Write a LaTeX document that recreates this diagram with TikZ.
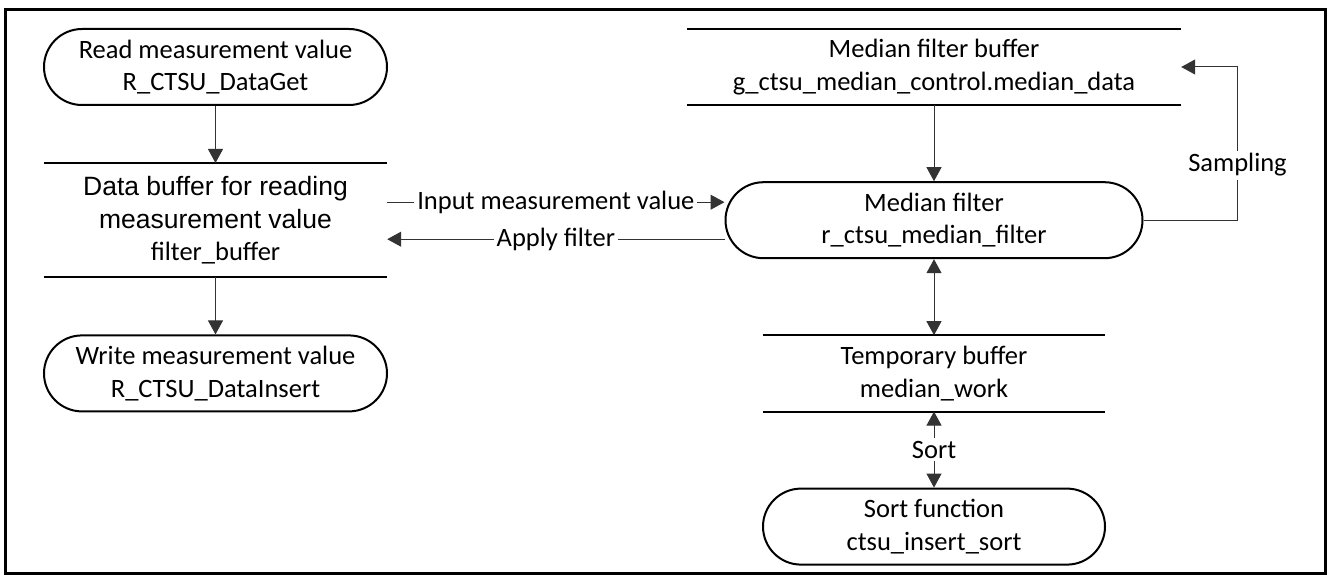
\documentclass[tikz,border=0pt]{standalone}
\usepackage{fontspec}
\setmainfont{Carlito}
\newfontfamily\arialfont{Liberation Sans}
\usepackage{tikz}
\usetikzlibrary{arrows.meta, positioning}
\tikzstyle{term} = [rectangle, draw, line width=2pt, rounded corners=38pt, minimum height=76pt, align=center, inner sep=0pt]
\tikzstyle{store} = [rectangle, minimum height=76pt, align=center, inner sep=0pt]
\tikzstyle{line} = [draw, -{Triangle[width=15pt,length=14pt]}, line width=1pt, black!80]
\tikzstyle{dline} = [draw, {Triangle[width=15pt,length=14pt]}-{Triangle[width=15pt,length=14pt]}, line width=1pt, black!80]
\tikzstyle{lbl} = [fill=white, text=black, inner sep=3pt]

\begin{document}
\begin{tikzpicture}[x=1pt, y=-1pt, font=\fontsize{26.5}{32.5}\selectfont]
  \useasboundingbox (0,0) rectangle (1328,575);
  \draw [line width=3pt] (5,10) rectangle (1325,573);

  % left column
  \node (read) [term, minimum width=343pt] at (215.5,67) {Read measurement value\\R\_CTSU\_DataGet};
  \node (databuf) [store, minimum width=343pt, minimum height=114pt, below=57pt of read]
    {{\arialfont Data buffer for reading}\\{\arialfont measurement value}\\filter\_buffer};
  \node (write) [term, minimum width=343pt, below=57pt of databuf] {Write measurement value\\R\_CTSU\_DataInsert};

  % right column
  \node (medbuf) [store, minimum width=494pt] at (934,67) {Median filter buffer\\g\_ctsu\_median\_control.median\_data};
  \node (medfilt) [term, minimum width=417pt, below=76pt of medbuf] {Median filter\\r\_ctsu\_median\_filter};
  \node (tmpbuf) [store, minimum width=342pt, below=76pt of medfilt] {Temporary buffer\\median\_work};
  \node (sortfn) [term, minimum width=342pt, below=76pt of tmpbuf] {Sort function\\ctsu\_insert\_sort};

  \foreach \b in {databuf, medbuf, tmpbuf}
    \draw [line width=2pt] (\b.north west) -- (\b.north east) (\b.south west) -- (\b.south east);

  \draw [line] (read) -- (databuf);
  \draw [line] (databuf) -- (write);
  \draw [line] ([yshift=18pt]databuf.east) -- node[lbl] {Input measurement value} ([yshift=18pt]medfilt.west);
  \draw [line] ([yshift=-19pt]medfilt.west) -- node[lbl] {Apply filter} ([yshift=-19pt]databuf.east);
  \draw [line] (medbuf) -- (medfilt);
  \draw [line] (medfilt.east) -- ++(94,0) |- node[lbl, pos=0.18] {Sampling} (medbuf.east);
  \draw [dline] (medfilt) -- (tmpbuf);
  \draw [dline] (tmpbuf) -- node[lbl] {Sort} (sortfn);
\end{tikzpicture}
\end{document}
